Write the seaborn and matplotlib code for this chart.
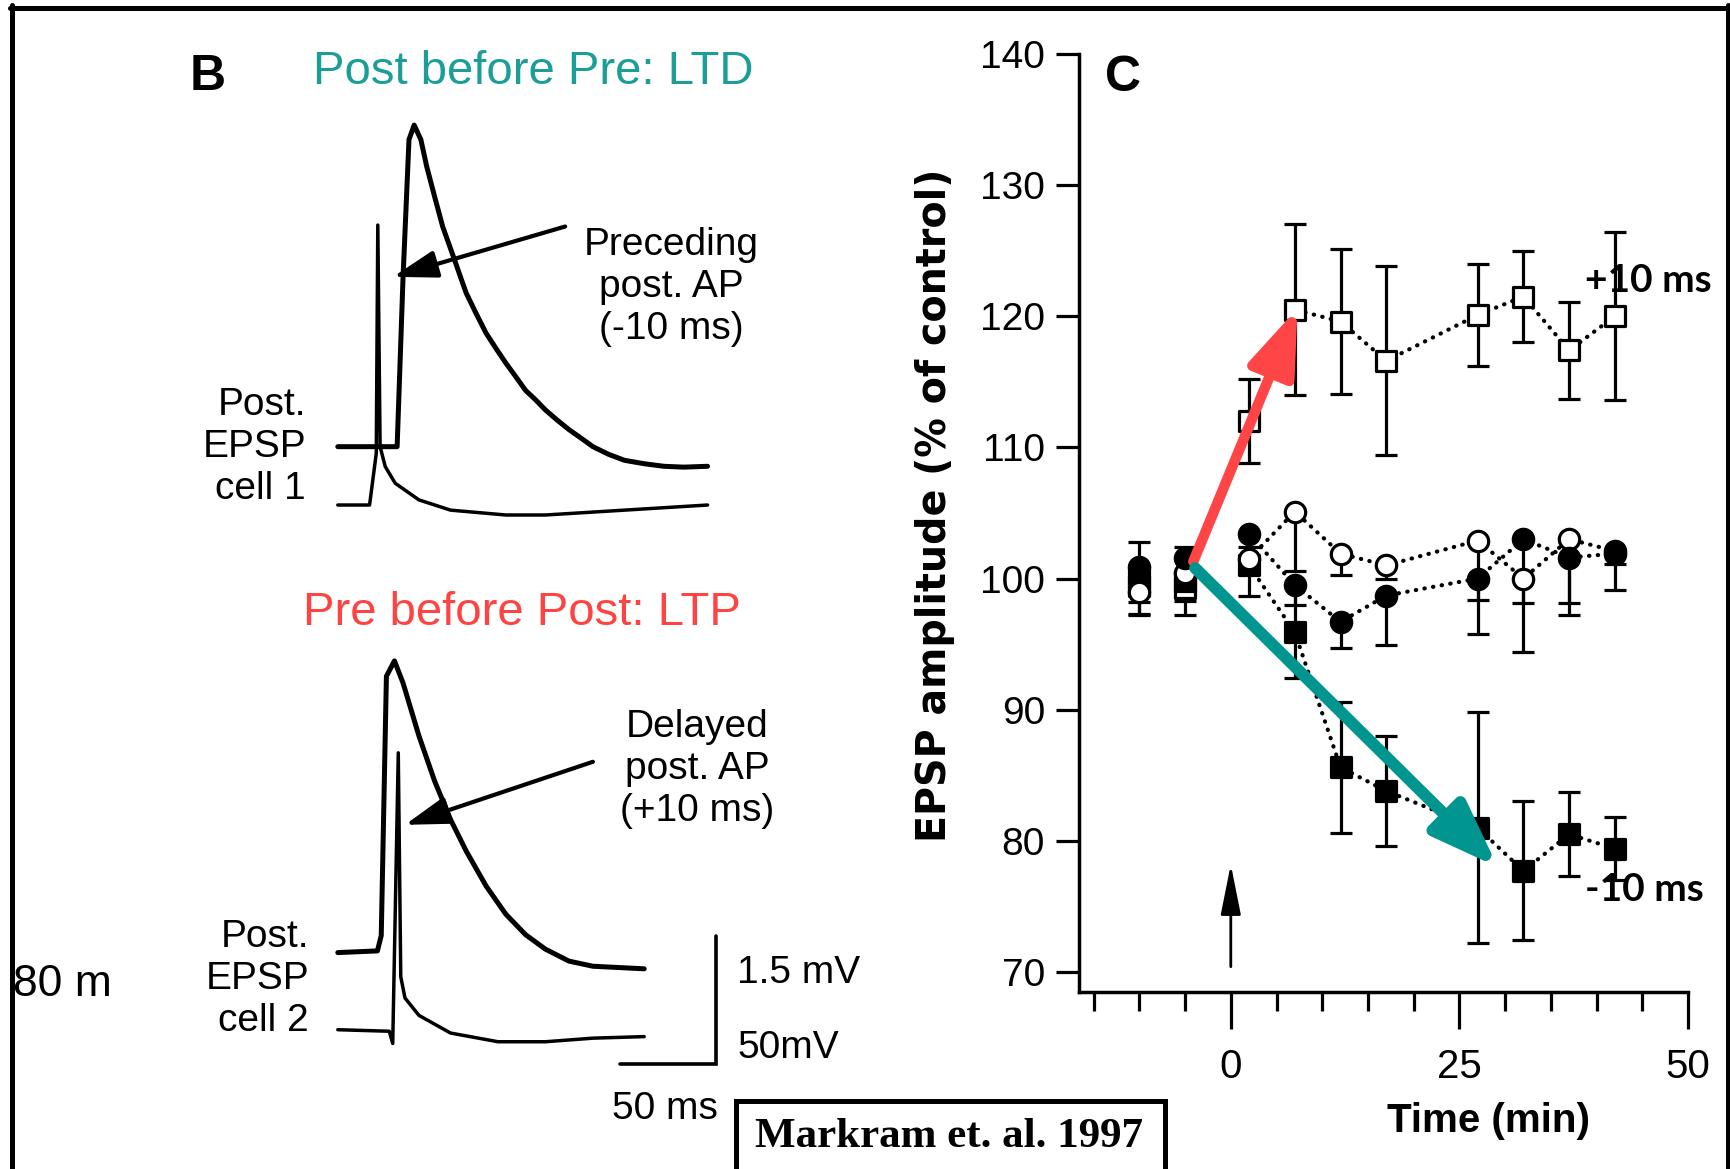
import numpy as np
import seaborn as sns
import matplotlib.pyplot as plt
from matplotlib.patches import Rectangle
from matplotlib.lines import Line2D
from matplotlib.ticker import MultipleLocator

# ---------------- panel C: EPSP amplitude (% of control) vs time (min)
time_min = [-10, -5, 2, 7, 12, 17, 27, 32, 37, 42]

plus10_vals = [99.4, 99.3, 112.0, 120.5, 119.6, 116.6, 120.1, 121.5, 117.4, 120.0]
plus10_err = [1.2, 1.0, 3.2, 6.5, 5.5, 7.2, 3.9, 3.5, 3.7, 6.4]

minus10_vals = [100.0, 99.8, 101.0, 95.9, 85.6, 83.8, 81.0, 77.7, 80.5, 79.4]
minus10_err = [2.8, 2.6, 2.3, 3.5, 5.0, 4.2, 8.8, 5.3, 3.2, 2.4]

open_circ_vals = [99.0, 100.4, 101.5, 105.1, 101.9, 101.0, 102.9, 100.0, 103.0, 102.1]
open_circ_err_low = [1.7, 1.0, 1.0, 4.5, 1.65, 1.0, 4.5, 5.6, 4.9, 1.0]

filled_circ_vals = [100.9, 101.6, 103.4, 99.5, 96.7, 98.7, 100.0, 103.0, 101.6, 101.9]
filled_circ_err_low = [1.0, 1.0, 1.0, 1.5, 2.0, 3.8, 4.2, 4.9, 4.4, 2.8]

# ---------------- panel B: example traces (time in ms, EPSP in mV, AP in mV)
epsp1_t = [0, 31.0, 34.1, 37.2, 39.9, 43.4, 46.5, 50.6, 54.8, 61.0, 64.1, 67.1,
           72.3, 77.5, 82.7, 87.8, 93.0, 98.1, 103.3, 108.5, 114.7, 120.8,
           127.1, 133.3, 141.5, 149.8, 160.1, 170.4, 180.8, 193.2]
epsp1_mv = [0, 0, 1.99, 3.60, 3.77, 3.60, 3.28, 2.93, 2.58, 2.19, 1.99, 1.80,
            1.56, 1.33, 1.15, 0.98, 0.82, 0.66, 0.55, 0.43, 0.31, 0.20,
            0.10, 0.0, -0.09, -0.16, -0.20, -0.23, -0.24, -0.23]
ap1_t = [0, 16.6, 20.1, 20.9, 22.1, 24.8, 30.0, 42.4, 58.9, 87.8, 108.5, 149.8, 193.2]
ap1_mv = [0, 0, 20.2, 109.4, 22.8, 15.0, 8.5, 2.0, -2.0, -3.9, -3.9, -2.0, 0]

epsp2_t = [0, 20.7, 22.7, 25.4, 29.6, 34.1, 42.4, 50.6, 58.9, 67.1, 77.5, 87.8,
           98.1, 108.5, 120.8, 133.3, 160.1]
epsp2_mv = [0, 0.02, 0.20, 3.24, 3.42, 3.16, 2.54, 2.01, 1.56, 1.19, 0.78, 0.45,
            0.21, 0.04, -0.10, -0.16, -0.19]
ap2_t = [0, 26.9, 28.7, 31.6, 32.9, 35.1, 42.4, 58.9, 83.7, 108.5, 133.3, 160.1]
ap2_mv = [0, -0.6, -5.4, 108.2, 20.7, 12.4, 5.6, -1.3, -4.7, -4.7, -3.3, -2.7]

scale_ms = 50
scale_epsp_mv = 1.5
scale_ap_mv = 50

TEAL = '#1a9e97'
RED = '#ff4343'
TEAL_ARROW = '#00958f'
RED_ARROW = '#ff4545'

sns.set_style('ticks')
plt.rcParams['font.family'] = ['Liberation Sans', 'DejaVu Sans']
plt.rcParams['text.color'] = 'black'
plt.rcParams['axes.labelcolor'] = 'black'
plt.rcParams['xtick.color'] = 'black'
plt.rcParams['ytick.color'] = 'black'
plt.rcParams['axes.edgecolor'] = 'black'

W, H = 1730, 1169
fig = plt.figure(figsize=(W / 100, H / 100), dpi=100)


def fx(x):
    return x / W


def fy(y):
    return 1 - y / H


# ---------------- panel B
ax_b = fig.add_axes([fx(300), fy(1100), 460 / W, 1000 / H])
ax_b.set_xlim(-19.75, 220.6)
ax_b.set_ylim(0, 11.723)
ax_b.axis('off')

ap_factor = scale_epsp_mv / scale_ap_mv
traces = [
    (epsp1_t, np.array(epsp1_mv), 7.659, 3.6),
    (ap1_t, np.array(ap1_mv) * ap_factor, 6.975, 2.5),
    (epsp2_t, np.array(epsp2_mv), 1.728, 3.6),
    (ap2_t, np.array(ap2_mv) * ap_factor, 0.824, 2.5),
]
for t, v, base, lw in traces:
    sns.lineplot(x=t, y=v + base, ax=ax_b, color='black', lw=lw,
                 sort=False, estimator=None)

# scale bar
bar_x0, bar_y0 = 147.7, 0.422
ax_b.plot([bar_x0, bar_x0 + scale_ms, bar_x0 + scale_ms],
          [bar_y0, bar_y0, bar_y0 + scale_epsp_mv], color='black', lw=2.6,
          solid_joinstyle='miter')

arrow_b = dict(arrowstyle='-|>,head_length=0.45,head_width=0.14',
               mutation_scale=60, color='black', lw=3, shrinkA=0, shrinkB=0)
ax_b.annotate('', xy=(28.9, 9.65), xytext=(118.8, 10.24), arrowprops=arrow_b)
ax_b.annotate('', xy=(35.1, 3.226), xytext=(133.3, 3.965), arrowprops=arrow_b)

fig.text(fx(208), fy(77), 'B', ha='center', va='center', fontsize=36,
         fontweight='bold')
fig.text(fx(533), fy(72), 'Post before Pre: LTD', ha='center', va='center',
         fontsize=34, color=TEAL)
fig.text(fx(522), fy(613), 'Pre before Post: LTP', ha='center', va='center',
         fontsize=34, color=RED)
fig.text(fx(671), fy(287), 'Preceding\npost. AP\n(-10 ms)', ha='center',
         va='center', multialignment='center', fontsize=28, linespacing=1.22)
fig.text(fx(306), fy(447), 'Post.\nEPSP\ncell 1', ha='right', va='center',
         multialignment='right', fontsize=28, linespacing=1.22)
fig.text(fx(697), fy(769), 'Delayed\npost. AP\n(+10 ms)', ha='center',
         va='center', multialignment='center', fontsize=28, linespacing=1.22)
fig.text(fx(309), fy(979), 'Post.\nEPSP\ncell 2', ha='right', va='center',
         multialignment='right', fontsize=28, linespacing=1.2)
fig.text(fx(737), fy(973), '1.5 mV', ha='left', va='center', fontsize=28)
fig.text(fx(737), fy(1048), '50mV', ha='left', va='center', fontsize=28)
fig.text(fx(665), fy(1109), '50 ms', ha='center', va='center', fontsize=28)
fig.text(fx(13), fy(985), '80 m', ha='left', va='center', fontsize=32)

# reference box
fig.add_artist(Rectangle((fx(736), fy(1180)), (1165 - 736) / W, (1180 - 1101) / H,
                         transform=fig.transFigure, fill=False, lw=3.6,
                         ec='black'))
fig.text(fx(949), fy(1137), 'Markram et. al. 1997', ha='center', va='center',
         fontsize=31, fontweight='bold', family=['Liberation Serif', 'DejaVu Serif'])

# ---------------- panel C
ax_c = fig.add_axes([fx(1079), fy(992), (1688 - 1079) / W, (992 - 54) / H])
ax_c.set_xlim(-16.6, 50)
ax_c.set_ylim(68.47, 140)

err_kw = dict(fmt='none', ecolor='black', elinewidth=2.3, capsize=8,
              capthick=2.3, zorder=2)
zeros = [0] * len(time_min)
ax_c.errorbar(time_min, plus10_vals, yerr=plus10_err, **err_kw)
ax_c.errorbar(time_min, minus10_vals, yerr=minus10_err, **err_kw)
ax_c.errorbar(time_min, open_circ_vals, yerr=[open_circ_err_low, zeros], **err_kw)
ax_c.errorbar(time_min, filled_circ_vals, yerr=[filled_circ_err_low, zeros], **err_kw)

series = [
    (plus10_vals, 's', 'white'),
    (minus10_vals, 's', 'black'),
    (open_circ_vals, 'o', 'white'),
    (filled_circ_vals, 'o', 'black'),
]
for vals, mk, face in series:
    sns.lineplot(x=time_min[2:], y=vals[2:], ax=ax_c, color='black', lw=3.0,
                 linestyle=(0, (0.1, 2.0)), dash_capstyle='round',
                 estimator=None, sort=False, zorder=3)
for vals, mk, face in series:
    sns.scatterplot(x=time_min, y=vals, ax=ax_c, marker=mk, s=215,
                    color=face, edgecolor='black', linewidth=2.3, zorder=4)

# stimulation arrow at t = 0
ax_c.annotate('', xy=(0, 78.2), xytext=(0, 70.4),
              arrowprops=dict(arrowstyle='-|>,head_length=0.5,head_width=0.1',
                              mutation_scale=62, color='black', lw=2,
                              shrinkA=0, shrinkB=0))
# LTP / LTD arrows
ax_c.annotate('', xy=(7.3, 120.6), xytext=(-4.1, 101.3),
              arrowprops=dict(arrowstyle='-|>,head_length=0.55,head_width=0.2',
                              mutation_scale=72, color=RED_ARROW, lw=7.5,
                              shrinkA=0, shrinkB=0), zorder=6)
ax_c.annotate('', xy=(29.2, 78.0), xytext=(-3.9, 100.8),
              arrowprops=dict(arrowstyle='-|>,head_length=0.55,head_width=0.2',
                              mutation_scale=72, color=TEAL_ARROW, lw=8.5,
                              shrinkA=0, shrinkB=0), zorder=6)

ax_c.text(38.7, 122.7, '+10 ms', ha='left', va='center', fontsize=28,
          fontweight='bold', family=['Lato', 'DejaVu Sans'], zorder=7)
ax_c.text(38.7, 76.3, '-10 ms', ha='left', va='center', fontsize=28,
          fontweight='bold', family=['Lato', 'DejaVu Sans'], zorder=7)

ax_c.set_yticks(range(70, 141, 10))
ax_c.set_xticks([0, 25, 50])
ax_c.xaxis.set_minor_locator(MultipleLocator(5))
sns.despine(ax=ax_c)
for side in ['left', 'bottom']:
    ax_c.spines[side].set_linewidth(2.5)
ax_c.tick_params(axis='y', which='major', length=16.5, width=2.3,
                 labelsize=28, pad=8)
ax_c.tick_params(axis='x', which='major', length=26.6, width=2.3,
                 labelsize=29, pad=14)
ax_c.tick_params(axis='x', which='minor', length=13.7, width=2.3)

ax_c.set_ylabel('EPSP amplitude (% of control)', fontsize=28.5,
                fontweight='bold', family=['DejaVu Sans'])
ax_c.yaxis.set_label_coords(-0.2036, 0.519)
ax_c.set_xlabel('Time (min)', fontsize=29, fontweight='bold')
ax_c.xaxis.set_label_coords(0.673, -0.117)

fig.text(fx(1123), fy(78), 'C', ha='center', va='center', fontsize=36,
         fontweight='bold')

# outer frame (top, left, right)
fig.add_artist(Line2D([fx(12), fx(12)], [fy(5), 0], lw=3.6, color='black',
                      transform=fig.transFigure))
fig.add_artist(Line2D([fx(10), fx(1730)], [fy(7.5), fy(7.5)], lw=3.6,
                      color='black', transform=fig.transFigure))
fig.add_artist(Line2D([fx(1727.5), fx(1727.5)], [fy(5), 0], lw=3.6,
                      color='black', transform=fig.transFigure))

fig.savefig('out.png', dpi=100, facecolor='white')
